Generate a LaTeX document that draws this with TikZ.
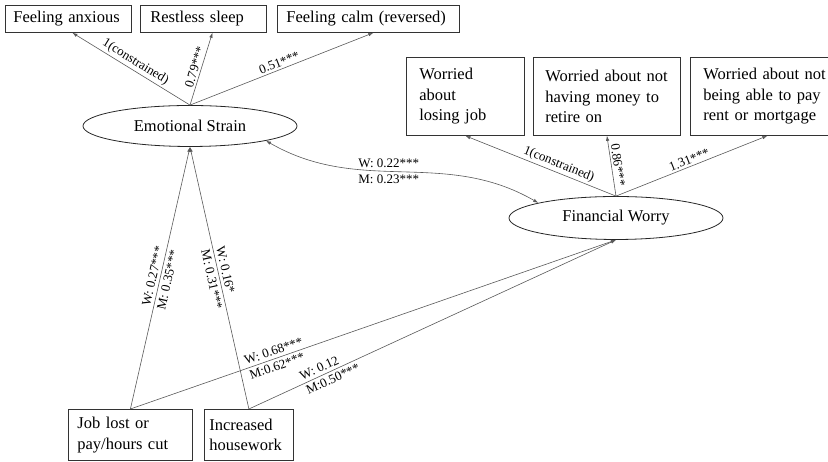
\documentclass[tikz,border=0pt]{standalone}
\usepackage{fontspec}
\setmainfont{Liberation Serif}
\usetikzlibrary{arrows.meta, shapes.geometric}

\begin{document}
\begin{tikzpicture}[x=1pt, y=1pt,
    >={Latex[length=5pt, width=3.5pt]},
    item/.style={draw=black!80, line width=0.8pt, anchor=north west, align=left, font=\fontsize{16.5}{20.5}\selectfont},
    factor/.style={draw=black!85, ellipse, line width=0.8pt, minimum width=214pt, font=\fontsize{16.5}{20}\selectfont},
    link/.style={draw=black!65, line width=0.6pt},
    coef/.style={font=\fontsize{13}{15.5}\selectfont, inner sep=2pt, align=left}]
    \useasboundingbox (0, 0) rectangle (828, 462);

    \node[item, text width=110pt, inner xsep=8pt, minimum height=27pt] (anx) at (5, 457) {Feeling anxious};
    \node[item, text width=106pt, inner xsep=10pt, minimum height=27pt] (sleep) at (140, 457) {Restless sleep};
    \node[item, text width=164pt, inner xsep=9pt, minimum height=27pt] (calm) at (277, 457) {Feeling calm (reversed)};

    \node[factor, minimum height=41pt] (es) at (190, 336) {Emotional Strain};
    \node[factor, minimum height=43pt] (fw) at (616, 244) {Financial Worry};

    \node[item, text width=92pt, inner xsep=13pt, minimum height=78pt] (job) at (406, 405) {Worried\\about\\losing job};
    \node[item, text width=123pt, inner xsep=12pt, minimum height=78pt] (retire) at (533, 405) {Worried about not\\having money to\\retire on};
    \node[item, text width=124pt, inner xsep=13pt, minimum height=78pt] (rent) at (690, 405) {Worried about not\\being able to pay\\rent or mortgage};

    \node[item, text width=106pt, inner xsep=9pt, minimum height=51pt] (lost) at (68, 53) {Job lost or\\pay/hours cut};
    \node[item, text width=79pt, inner xsep=5pt, minimum height=51pt] (house) at (204, 53) {Increased\\housework};

    \draw[link, ->] (es.north) -- ([xshift=4pt]anx.south) node[coef, midway, sloped, above] {1(constrained)};
    \draw[link, ->] (es.north) -- ([xshift=9pt]sleep.south) node[coef, midway, sloped, above] {0.79***};
    \draw[link, ->] (es.north) -- ([xshift=5pt]calm.south) node[coef, midway, sloped, above] {0.51***};

    \draw[link, ->] (fw.north) -- (job.south) node[coef, pos=0.4, sloped, above] {1(constrained)};
    \draw[link, ->] (fw.north) -- (retire.south) node[coef, midway, sloped, above] {0.86***};
    \draw[link, ->] (fw.north) -- ([xshift=2pt]rent.south) node[coef, midway, sloped, above] {1.31***};

    \draw[link, <->] (es.-11) to[out=-30, in=150] node[coef, pos=0.45] {W: 0.22***\\M: 0.23***} (fw.169);

    \draw[link, ->] (lost.north) -- (es.south) node[coef, midway, sloped] {W: 0.27***\\M: 0.35***};
    \draw[link, ->] (house.north) -- (es.south) node[coef, midway, sloped] {W: 0.16*\\M: 0.31***};
    \draw[link, ->] (lost.north) -- (fw.south) node[coef, pos=0.3, sloped] {W: 0.68***\\M:0.62***};
    \draw[link, ->] (house.north) -- (fw.south) node[coef, pos=0.22, sloped] {W: 0.12\\M:0.50***};
  \end{tikzpicture}
\end{document}
